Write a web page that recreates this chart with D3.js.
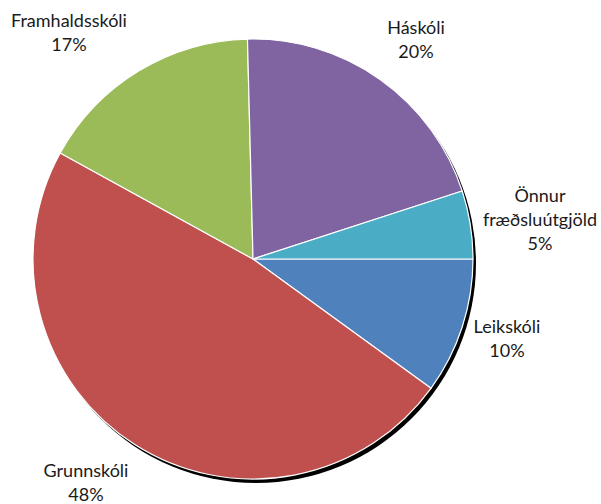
<!DOCTYPE html>
<html lang="is">
<head>
<meta charset="UTF-8">
<title>Fræðsluútgjöld</title>
<style>
    body { margin: 0; background: #fff; }
    svg { display: block; }
    .lbl { font-family: Lato, 'Open Sans', sans-serif; font-size: 18px; fill: #1a1a1a; }
</style>
</head>
<body>
<svg width="601" height="504"></svg>
<script src="https://d3js.org/d3.v7.min.js"></script>
<script>
// shares of education spending, %
const categories = ['Leikskóli', 'Grunnskóli', 'Framhaldsskóli', 'Háskóli', 'Önnur fræðsluútgjöld'];
const values = [10, 48, 16.6, 20.4, 5];
const colors = ['#4f81bd', '#c0504d', '#9bbb59', '#8064a2', '#4bacc6'];

const width = 601, height = 504;
const cx = 253, cy = 259, r = 220;

const svg = d3.select('svg');

const data = categories.map((c, i) => ({ name: c, value: values[i], color: colors[i] }));

// start at 3 o'clock, clockwise
const pie = d3.pie().sort(null).value(d => d.value)
    .startAngle(Math.PI / 2).endAngle(Math.PI / 2 + 2 * Math.PI);
const arc = d3.arc().innerRadius(0).outerRadius(r);

const defs = svg.append('defs');
defs.append('filter').attr('id', 'blur')
    .append('feGaussianBlur').attr('stdDeviation', 0.5);

// shadow
svg.append('circle')
    .attr('cx', cx + 3).attr('cy', cy + 4).attr('r', r)
    .attr('fill', '#000')
    .attr('filter', 'url(#blur)');

const g = svg.append('g').attr('transform', `translate(${cx},${cy})`);
g.selectAll('path')
    .data(pie(data))
    .join('path')
    .attr('d', arc)
    .attr('fill', d => d.data.color)
    .attr('stroke', '#fff')
    .attr('stroke-width', 1.2)
    .attr('stroke-linejoin', 'round');

// label placement (text lines + anchor point)
const labelPos = {
    'Leikskóli': [507, 333],
    'Grunnskóli': [86, 477],
    'Framhaldsskóli': [69, 27],
    'Háskóli': [416, 34],
    'Önnur fræðsluútgjöld': [540, 202]
};
const lineH = 24;

data.forEach(d => {
    const lines = d.name === 'Önnur fræðsluútgjöld' ? ['Önnur', 'fræðsluútgjöld'] : [d.name];
    lines.push(Math.round(d.value) + '%');
    const [x, y] = labelPos[d.name];
    const t = svg.append('text').attr('class', 'lbl').attr('text-anchor', 'middle');
    lines.forEach((s, i) => {
        t.append('tspan').attr('x', x).attr('y', y + i * lineH).text(s);
    });
});
</script>
</body>
</html>
